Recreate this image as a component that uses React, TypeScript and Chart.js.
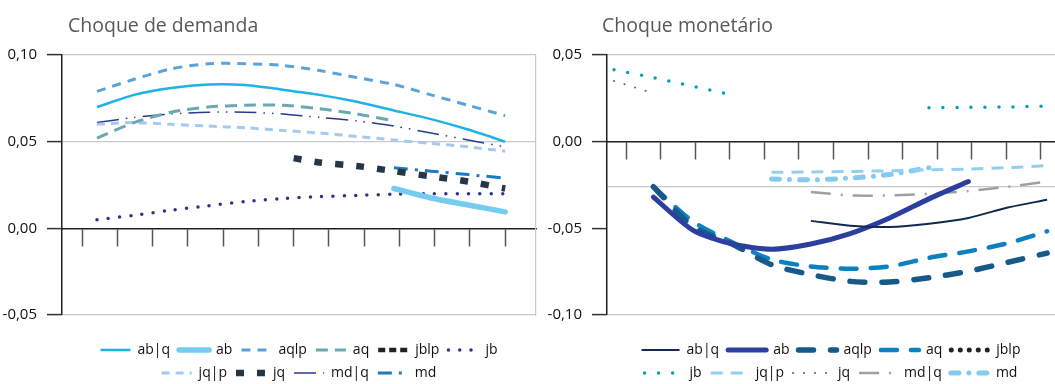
import React, { useEffect, useRef } from 'react';
import { Chart, registerables } from 'chart.js';

Chart.register(...registerables);

const FONT = "'Open Sans', 'Noto Sans', sans-serif";

// ---------- labels ----------
const SERIES_LABELS = ['ab|q', 'ab', 'aqlp', 'aq', 'jblp', 'jb', 'jq|p', 'jq', 'md|q', 'md'];
const PERIODS = [0, 1, 2, 3, 4, 5, 6, 7, 8, 9, 10, 11];
const TITLE_DEMAND = 'Choque de demanda';
const TITLE_MONETARY = 'Choque monetário';

// ---------- Choque de demanda ----------
const demandAbQ = [0.07, 0.077, 0.081, 0.083, 0.0827, 0.08, 0.077, 0.073, 0.068, 0.063, 0.057, 0.05];
const demandAb = [null, null, null, null, null, null, null, null, 0.023, 0.0175, 0.0135, 0.0095];
const demandAqLp = [0.079, 0.086, 0.092, 0.095, 0.095, 0.094, 0.091, 0.087, 0.083, 0.077, 0.071, 0.065];
const demandAq = [0.052, 0.061, 0.067, 0.07, 0.071, 0.071, 0.069, 0.066, 0.062, null, null, null];
const demandJbLp = [null, null, null, null, null, null, null, null, null, null, null, null];
const demandJb = [0.005, 0.0075, 0.0105, 0.013, 0.0155, 0.0172, 0.0183, 0.019, 0.0197, 0.02, 0.02, 0.02];
const demandJqLp = [0.06, 0.061, 0.06, 0.059, 0.058, 0.0565, 0.055, 0.053, 0.051, 0.049, 0.047, 0.0445];
const demandJqPeriods = [5.3, 6, 7, 8, 9, 10, 11];
const demandJq = [0.0405, 0.038, 0.036, 0.033, 0.03, 0.027, 0.023];
const demandMdQ = [0.061, 0.064, 0.066, 0.067, 0.067, 0.066, 0.064, 0.062, 0.059, 0.055, 0.051, 0.047];
const demandMd = [null, null, null, null, null, null, null, null, 0.035, 0.033, 0.031, 0.029];

// ---------- Choque monetário ----------
const monetaryAbQ = [null, null, null, null, null, -0.0457, -0.0485, -0.0492, -0.0473, -0.044, -0.038, -0.0335];
const monetaryAb = [null, -0.032, -0.051, -0.059, -0.062, -0.059, -0.053, -0.044, -0.033, -0.023, null, null];
const monetaryAqLp = [null, -0.026, -0.049, -0.059, -0.071, -0.0767, -0.0806, -0.081, -0.0785, -0.0748, -0.0696, -0.0643];
const monetaryAq = [null, -0.026, -0.046, -0.058, -0.068, -0.072, -0.0733, -0.072, -0.067, -0.0633, -0.0586, -0.0517];
const monetaryJbLp = [null, null, null, null, null, null, null, null, null, null, null, null];
const monetaryJb = [0.0415, 0.037, 0.032, 0.027, null, null, null, null, 0.0196, 0.0198, 0.02, 0.0205];
const monetaryJqLp = [null, null, null, null, -0.0177, -0.0175, -0.0172, -0.0168, -0.0163, -0.0158, -0.015, -0.0138];
const monetaryJq = [0.035, 0.028, null, null, null, null, null, null, null, null, null, null];
const monetaryMdQ = [null, null, null, null, null, -0.029, -0.031, -0.031, -0.03, -0.0285, -0.026, -0.023];
const monetaryMd = [null, null, null, null, -0.0215, -0.022, -0.021, -0.019, -0.015, null, null, null];

// ---------- axis ticks ----------
const demandYTicks = [-0.05, 0, 0.05, 0.1];
const monetaryYTicks = [-0.1, -0.05, -0.026, 0, 0.05];
const monetaryUnlabeledGrid = -0.026;
const demandXTicks = [-0.404, 0.546, 1.496, 2.446, 3.396, 4.346, 5.296, 6.246, 7.196, 8.146, 9.096, 10.046, 10.996];
const monetaryXTicks = [0.305, 1.183, 2.061, 2.939, 3.817, 4.695, 5.573, 6.451, 7.329, 8.207, 9.085, 9.963, 10.841];

type Style = { color: string; width: number; dash: number[]; cap?: CanvasLineCap };

const demandStyles: Style[] = [
  { color: '#1eb3e6', width: 2.5, dash: [] },
  { color: '#74cdf1', width: 5.5, dash: [], cap: 'round' },
  { color: '#5aa4da', width: 3, dash: [9, 7] },
  { color: '#6aa9b4', width: 3, dash: [12, 7] },
  { color: '#222222', width: 4.5, dash: [7, 4] },
  { color: '#2e3192', width: 3.5, dash: [0, 11.3], cap: 'round' },
  { color: '#a8c9ee', width: 3, dash: [8, 6] },
  { color: '#253649', width: 6.5, dash: [8, 13] },
  { color: '#2a3a8c', width: 1.5, dash: [22, 7, 1.5, 7, 1.5, 7] },
  { color: '#1a7cc0', width: 3, dash: [14, 7, 3, 7] },
];

const monetaryStyles: Style[] = [
  { color: '#0f2a4d', width: 2, dash: [] },
  { color: '#2c3fa0', width: 5, dash: [], cap: 'round' },
  { color: '#165a8a', width: 5.5, dash: [15, 17], cap: 'round' },
  { color: '#0b80c2', width: 4.5, dash: [16, 14], cap: 'round' },
  { color: '#222222', width: 5, dash: [0, 9], cap: 'round' },
  { color: '#03a0be', width: 3.5, dash: [0, 14], cap: 'round' },
  { color: '#92d0f2', width: 3, dash: [12, 8] },
  { color: '#4f6277', width: 2, dash: [0, 11], cap: 'round' },
  { color: '#a0a0a0', width: 2.5, dash: [20, 10, 2, 10] },
  { color: '#85cbf0', width: 5, dash: [8, 10, 0, 10], cap: 'round' },
];

const demandValues = [demandAbQ, demandAb, demandAqLp, demandAq, demandJbLp, demandJb, demandJqLp, demandJq, demandMdQ, demandMd];
const demandPeriods = [PERIODS, PERIODS, PERIODS, PERIODS, PERIODS, PERIODS, PERIODS, demandJqPeriods, PERIODS, PERIODS];
const monetaryValues = [monetaryAbQ, monetaryAb, monetaryAqLp, monetaryAq, monetaryJbLp, monetaryJb, monetaryJqLp, monetaryJq, monetaryMdQ, monetaryMd];
const monetaryPeriods = [PERIODS, PERIODS, PERIODS, PERIODS, PERIODS, PERIODS, PERIODS, PERIODS, PERIODS, PERIODS];

type Panel = {
  values: (number | null)[][];
  periods: number[][];
  styles: Style[];
  xMin: number;
  xMax: number;
  xTicks: number[];
  yMin: number;
  yMax: number;
  yTicks: number[];
  hiddenGrid: number[];
  unlabeled: number | null;
  axisWidth: number;
  padRight: number;
  rightBorder: boolean;
  legendBox: number;
};

const GRID = '#c9c9c9';
const AXIS = '#1f1f1f';
const CLEAR = 'rgba(0,0,0,0)';

function buildConfig(p: Panel): any {
  const datasets = SERIES_LABELS.map((label, i) => {
    const st = p.styles[i];
    return {
      label,
      data: p.periods[i].map((x, j) => ({ x, y: p.values[i][j] })),
      borderColor: st.color,
      backgroundColor: st.color,
      borderWidth: st.width,
      borderDash: st.dash,
      borderCapStyle: st.cap || 'butt',
      borderJoinStyle: 'round',
      pointRadius: 0,
      pointHoverRadius: 0,
      tension: 0.25,
      spanGaps: false,
      fill: false,
    };
  });
  const fmt = (v: number) => (v === p.unlabeled ? '' : v.toFixed(2).replace('.', ','));
  const scales: any = {
    x: {
      type: 'linear',
      min: p.xMin,
      max: p.xMax,
      position: { y: 0 },
      afterBuildTicks: (s: any) => {
        s.ticks = p.xTicks.map((v) => ({ value: v }));
      },
      ticks: { display: false, autoSkip: false },
      grid: {
        display: true,
        drawOnChartArea: false,
        drawTicks: true,
        tickLength: 17,
        tickColor: '#555555',
        tickWidth: 1.5,
      },
      border: { display: true, color: AXIS, width: 1.5 },
    },
    xGap: {
      type: 'linear',
      position: 'bottom',
      display: true,
      grid: { display: false },
      border: { display: false },
      ticks: { display: false },
      afterFit: (s: any) => {
        s.height = 19;
      },
    },
    y: {
      type: 'linear',
      position: 'left',
      min: p.yMin,
      max: p.yMax,
      afterBuildTicks: (s: any) => {
        s.ticks = p.yTicks.map((v) => ({ value: v }));
      },
      afterFit: (s: any) => {
        s.width = p.axisWidth;
      },
      ticks: {
        autoSkip: false,
        padding: 10,
        color: '#111111',
        font: { family: FONT, size: 15 },
        callback: (v: any) => fmt(Number(v)),
      },
      grid: {
        display: true,
        drawOnChartArea: true,
        drawTicks: true,
        tickLength: 15,
        lineWidth: 1.2,
        tickWidth: 1.5,
        color: (c: any) => (c.tick && p.hiddenGrid.includes(c.tick.value) ? CLEAR : GRID),
        tickColor: (c: any) => (c.tick && c.tick.value === p.unlabeled ? CLEAR : '#333333'),
      },
      border: { display: true, color: AXIS, width: 1.5 },
    },
  };
  if (p.rightBorder) {
    scales.yr = {
      type: 'linear',
      position: 'right',
      display: true,
      grid: { display: false },
      ticks: { display: false },
      border: { display: true, color: GRID, width: 1.2 },
      afterFit: (s: any) => {
        s.width = 0;
      },
    };
  }
  return {
    type: 'line',
    data: { datasets },
    options: {
      responsive: false,
      animation: false,
      events: [],
      scales,
      layout: { padding: { left: 0, right: p.padRight, top: 55, bottom: 10 } },
      plugins: {
        title: { display: false },
        tooltip: { enabled: false },
        legend: {
          display: true,
          position: 'bottom',
          align: 'center',
          fullSize: false,
          labels: {
            usePointStyle: true,
            pointStyleWidth: p.legendBox,
            boxHeight: 14,
            padding: 9,
            color: '#111111',
            font: { family: FONT, size: 14 },
            generateLabels: (chart: any) =>
              chart.data.datasets.map((ds: any, i: number) => ({
                text: ds.label,
                strokeStyle: ds.borderColor,
                fillStyle: CLEAR,
                lineWidth: ds.borderWidth,
                lineDash: ds.borderDash,
                lineCap: ds.borderCapStyle,
                pointStyle: 'line',
                hidden: false,
                datasetIndex: i,
                fontColor: '#111111',
              })),
          },
        },
      },
    },
  };
}

function ChartPanel({ panel, left, width }: { panel: Panel; left: number; width: number }) {
  const ref = useRef<HTMLCanvasElement | null>(null);
  useEffect(() => {
    if (!ref.current) return;
    const chart = new Chart(ref.current, buildConfig(panel));
    return () => chart.destroy();
  }, [panel]);
  return (
    <canvas
      ref={ref}
      width={width}
      height={400}
      style={{ position: 'absolute', left, top: 0, width, height: 400 }}
    />
  );
}

const demandPanel: Panel = {
  values: demandValues,
  periods: demandPeriods,
  styles: demandStyles,
  xMin: -0.943,
  xMax: 11.83,
  xTicks: demandXTicks,
  yMin: -0.05,
  yMax: 0.1,
  yTicks: demandYTicks,
  hiddenGrid: [0],
  unlabeled: null,
  axisWidth: 62,
  padRight: 4,
  rightBorder: true,
  legendBox: 30,
};

const monetaryPanel: Panel = {
  values: monetaryValues,
  periods: monetaryPeriods,
  styles: monetaryStyles,
  xMin: -0.178,
  xMax: 11.2,
  xTicks: monetaryXTicks,
  yMin: -0.1,
  yMax: 0.05,
  yTicks: monetaryYTicks,
  hiddenGrid: [0, -0.05],
  unlabeled: monetaryUnlabeledGrid,
  axisWidth: 67,
  padRight: 0,
  rightBorder: false,
  legendBox: 38,
};

export default function App() {
  const titleStyle: React.CSSProperties = {
    position: 'absolute',
    top: 12,
    fontFamily: FONT,
    fontSize: 19.5,
    color: '#595959',
    whiteSpace: 'nowrap',
    lineHeight: '26px',
  };
  return (
    <div
      style={{
        position: 'absolute',
        left: 0,
        top: 0,
        width: 1055,
        height: 384,
        overflow: 'hidden',
        background: '#ffffff',
      }}
    >
      <ChartPanel panel={demandPanel} left={0} width={540} />
      <ChartPanel panel={monetaryPanel} left={540} width={515} />
      <div style={{ ...titleStyle, left: 68 }}>{TITLE_DEMAND}</div>
      <div style={{ ...titleStyle, left: 602 }}>{TITLE_MONETARY}</div>
    </div>
  );
}
